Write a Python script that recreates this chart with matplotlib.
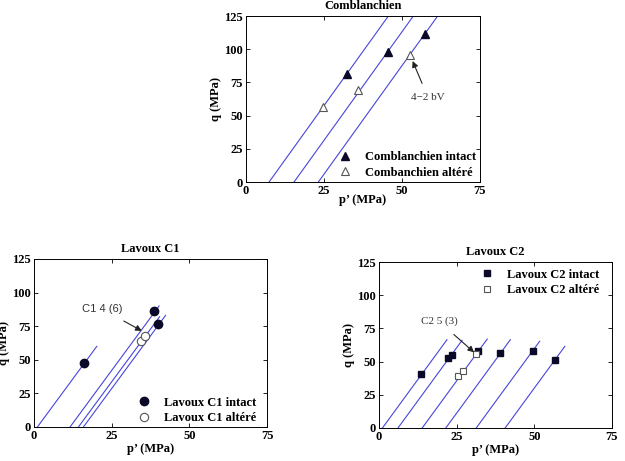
import numpy as np
import matplotlib
matplotlib.use('Agg')
import matplotlib.pyplot as plt

plt.rcParams['font.family'] = ['Liberation Serif', 'DejaVu Serif']
plt.rcParams['font.weight'] = 'bold'
plt.rcParams['font.size'] = 9

# Comblanchien
comb_int_p = [32.3, 45.6, 57.5]
comb_int_q = [81.3, 97.6, 111.4]
comb_alt_p = [24.6, 35.8, 52.6]
comb_alt_q = [56.7, 69.0, 95.4]
comb_p0 = [7.4, 15.4, 23.2]
comb_qend = [125, 125, 125]
comb_slope = 3.27

# Lavoux C1
c1_int_p = [16.1, 38.6, 39.9]
c1_int_q = [47.7, 86.4, 76.7]
c1_alt_p = [34.5, 35.7]
c1_alt_q = [64.2, 67.9]
c1_p0 = [1.1, 11.6, 14.3, 15.9]
c1_qend = [60, 90, 82, 83]
c1_slope = 3.14

# Lavoux C2
c2_int_p = [13.6, 22.1, 23.5, 31.9, 39.0, 49.6, 56.6]
c2_int_q = [40.8, 52.8, 55.3, 58.0, 56.8, 58.0, 51.3]
c2_alt_p = [25.5, 27.0, 31.2]
c2_alt_q = [39.3, 43.3, 55.5]
c2_p0 = [1.1, 6.1, 13.9, 21.5, 31.3, 40.6]
c2_qend = [66.5, 66.0, 67.0, 66.5, 65.3, 61.5]
c2_slope = 3.2

ticks = [0, 25, 50, 75]
qticks = [0, 25, 50, 75, 100, 125]
line_col = '#4646dc'
mark_col = '#0a0a28'
arrow = dict(arrowstyle='-|>', color='#222222', lw=0.8, mutation_scale=9,
             shrinkB=0)


def setup(ax, title, xpad=1):
    ax.set_xlim(0, 75)
    ax.set_ylim(0, 125)
    ax.set_xticks(ticks)
    ax.set_yticks(qticks)
    ax.tick_params(direction='in', length=3, width=0.6, top=True, right=True,
                   labelsize=9, pad=2)
    for s in ax.spines.values():
        s.set_linewidth(0.7)
    ax.set_title(title, fontsize=9, fontweight='bold', pad=5)
    ax.set_xlabel('p’ (MPa)', fontsize=9, fontweight='bold', labelpad=xpad)
    ax.set_ylabel('q (MPa)', fontsize=9, fontweight='bold', labelpad=2)


def paths(ax, p0s, qends, slope):
    for p0, qe in zip(p0s, qends):
        q = np.array([0, qe])
        ax.plot(p0 + q / slope, q, color=line_col, lw=0.8, zorder=1)


def legend(ax, loc, anchor):
    ax.legend(loc=loc, bbox_to_anchor=anchor, numpoints=1, frameon=False,
              borderaxespad=0, handletextpad=0.6, labelspacing=0.3,
              prop={'weight': 'bold', 'size': 9})


fig = plt.figure(figsize=(6.25, 4.61), dpi=100)
ax1 = fig.add_axes([0.3936, 0.6052, 0.3744, 0.360])
ax2 = fig.add_axes([0.0544, 0.0738, 0.3728, 0.3644])
ax3 = fig.add_axes([0.6064, 0.0716, 0.3728, 0.360])

# top
paths(ax1, comb_p0, comb_qend, comb_slope)
ax1.plot(comb_int_p, comb_int_q, ls='none', marker='^', ms=6, color=mark_col,
         label='Comblanchien intact', zorder=3)
ax1.plot(comb_alt_p, comb_alt_q, ls='none', marker='^', ms=6, mfc='white',
         mec='#555555', mew=0.8, label='Combanchien altéré', zorder=3)
setup(ax1, 'Comblanchien', xpad=-2)
ax1.annotate('4−2 bV', xy=(53.4, 91.1), xytext=(58.3, 64), fontsize=8,
             fontweight='normal', color='#333333', ha='center', va='center',
             arrowprops=dict(arrow, shrinkA=5))
legend(ax1, 'lower right', (1.005, -0.01))

# bottom left
paths(ax2, c1_p0, c1_qend, c1_slope)
ax2.plot(c1_int_p, c1_int_q, ls='none', marker='o', ms=6, color=mark_col,
         label='Lavoux C1 intact', zorder=3)
ax2.plot(c1_alt_p, c1_alt_q, ls='none', marker='o', ms=6, mfc='white',
         mec='#555555', mew=0.8, label='Lavoux C1 altéré', zorder=3)
setup(ax2, 'Lavoux C1')
ax2.annotate('C1 4 (6)', xy=(34.7, 71.5), xytext=(22.0, 87.6), fontsize=8,
             fontweight='normal', family='Liberation Sans', color='#333333',
             ha='center', va='center', arrowprops=dict(arrow, shrinkA=6))
legend(ax2, 'lower right', (0.975, -0.015))

# bottom right
paths(ax3, c2_p0, c2_qend, c2_slope)
ax3.plot(c2_int_p, c2_int_q, ls='none', marker='s', ms=5, color=mark_col,
         label='Lavoux C2 intact', zorder=3)
ax3.plot(c2_alt_p, c2_alt_q, ls='none', marker='s', ms=5, mfc='white',
         mec='#555555', mew=0.8, label='Lavoux C2 altéré', zorder=3)
setup(ax3, 'Lavoux C2')
ax3.annotate('C2 5 (3)', xy=(30.6, 57), xytext=(19.3, 80.3), fontsize=8,
             fontweight='normal', color='#333333', ha='center', va='center',
             arrowprops=dict(arrow, shrinkA=6))
legend(ax3, 'upper right', (0.965, 0.99))

fig.savefig('out.png', dpi=100)
